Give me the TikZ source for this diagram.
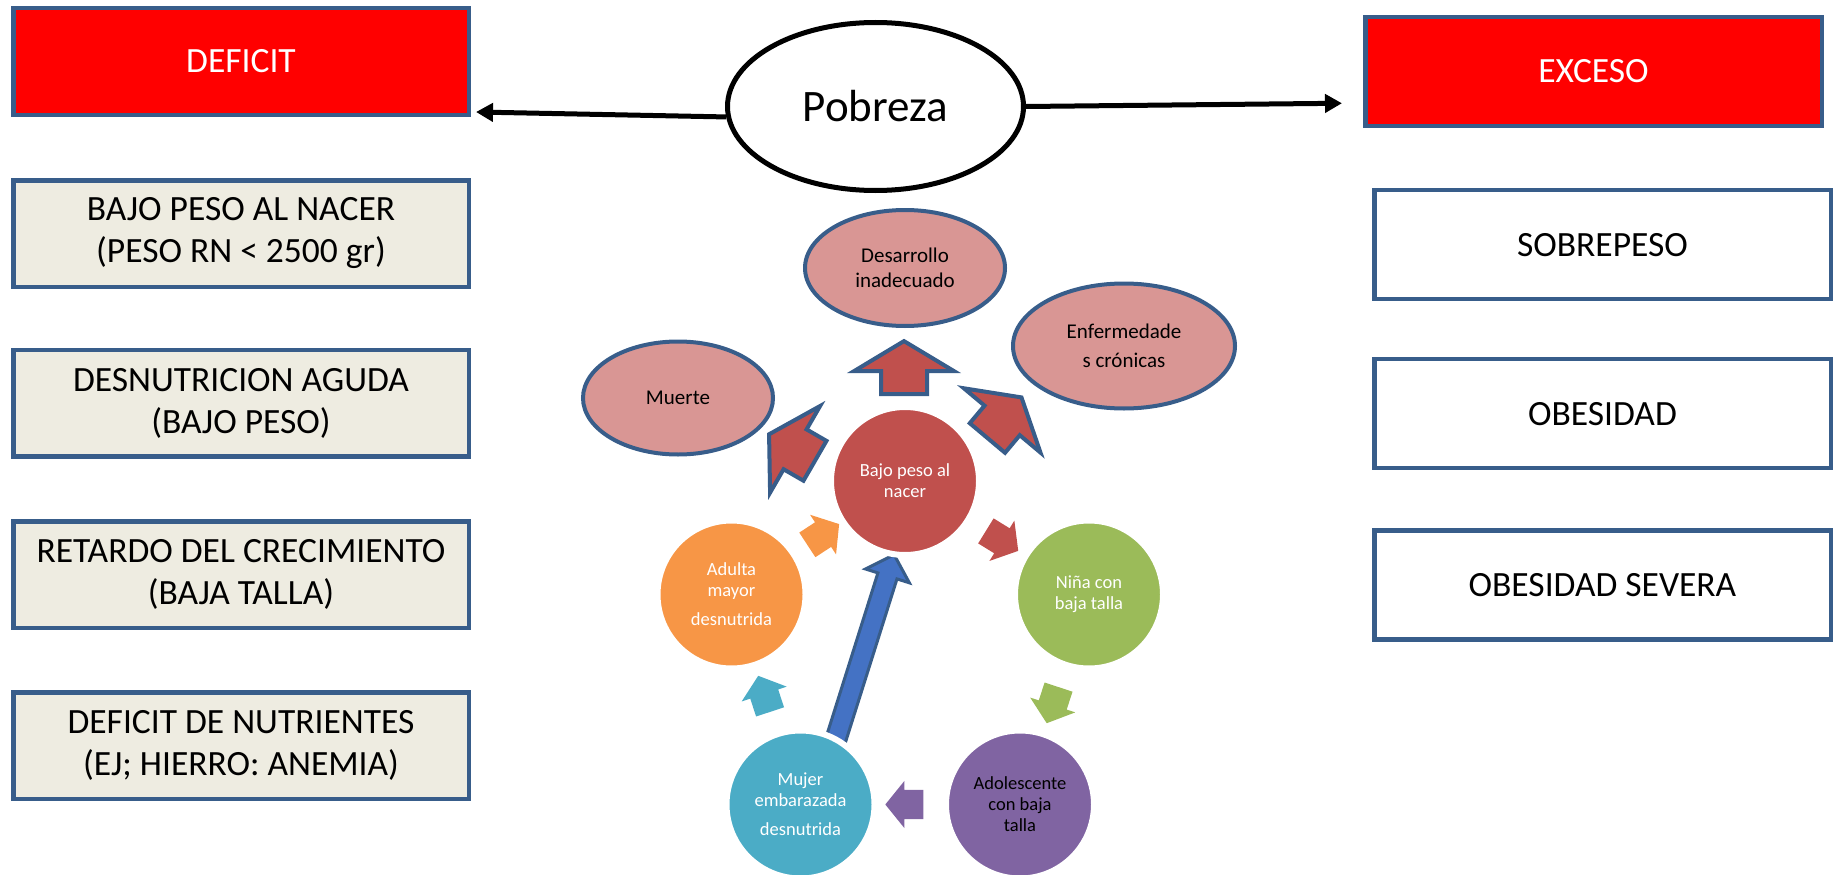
\documentclass[tikz,border=0pt]{standalone}
\usepackage{fontspec}
\setmainfont{Carlito}
\usetikzlibrary{shapes.geometric,shapes.arrows,arrows.meta,calc}

\definecolor{boxblue}{HTML}{385D8A}
\definecolor{beige}{HTML}{EEECE1}
\definecolor{pinkell}{HTML}{D99694}
\definecolor{bajored}{HTML}{C0504D}
\definecolor{ninagreen}{HTML}{9BBB59}
\definecolor{adopurple}{HTML}{8064A2}
\definecolor{mujteal}{HTML}{4BACC6}
\definecolor{aduorange}{HTML}{F79646}
\definecolor{bluefill}{HTML}{4472C4}

\begin{document}
\begin{tikzpicture}[x=1pt,y=-1pt,
        bigarrow/.style={single arrow,draw=boxblue,line width=4pt,fill=bajored,
            inner xsep=0pt,inner ysep=21pt,minimum height=53pt,
            single arrow head extend=27pt,single arrow tip angle=118},
        cyclearrow/.style={single arrow,inner xsep=0pt,inner ysep=14.5pt,
            minimum height=38pt,single arrow head extend=9pt,
            single arrow tip angle=102},
        pobarrow/.style={line width=5pt,-{Triangle[length=17pt,width=18pt]}}]
        \useasboundingbox (0,0) rectangle (1837,875);

        % left column
        \begin{scope}[every node/.style={rectangle,draw=boxblue,line width=4.5pt,
                        fill=beige,minimum width=455.5pt,minimum height=106.5pt,
                        align=center,font=\fontsize{35.5}{42}\selectfont}]
            \node[fill=red,text=white] (DEF) at (241,61.5) {DEFICIT};
            \node (LBP) at (241,233.5) {BAJO PESO AL NACER\\(PESO RN < 2500 gr)};
            \node (LDA) at (241,403) {DESNUTRICION AGUDA\\(BAJO PESO)};
            \node (LRC) at (241,574.5) {RETARDO DEL CRECIMIENTO\\(BAJA TALLA)};
            \node (LDN) at (241,745.5) {DEFICIT DE NUTRIENTES\\(EJ; HIERRO: ANEMIA)};
        \end{scope}

        % right column
        \begin{scope}[every node/.style={rectangle,draw=boxblue,line width=4.5pt,
                        fill=white,minimum width=456.5pt,minimum height=109pt,
                        align=center,font=\fontsize{35.5}{42}\selectfont}]
            \node[fill=red,text=white] (EXC) at (1593.5,71.5) {EXCESO};
            \node (SOB) at (1602.5,244.7) {SOBREPESO};
            \node (OBE) at (1602.5,413.7) {OBESIDAD};
            \node (OBS) at (1602.5,585.2) {OBESIDAD SEVERA};
        \end{scope}

        % Pobreza
        \node[ellipse,draw,line width=5pt,fill=white,minimum width=296pt,
            minimum height=168pt,font=\fontsize{45}{54}\selectfont]
            (POB) at (875.5,106.5) {Pobreza};
        \path (POB.184) edge[pobarrow] ([xshift=5pt,yshift=5pt]DEF.south east);
        \path (POB.east) edge[pobarrow] ([xshift=-21pt,yshift=25pt]EXC.south west);

        % consequences
        \begin{scope}[every node/.style={ellipse,draw=boxblue,line width=4pt,
                        fill=pinkell,inner sep=0pt,align=center,
                        font=\fontsize{21}{25}\selectfont}]
            \node[minimum width=200pt,minimum height=116pt] (DES) at (905,268)
                {Desarrollo\\inadecuado};
            \node[minimum width=222pt,minimum height=125pt] (ENF) at (1124,346)
                {Enfermedade\\[4pt]s crónicas};
            \node[minimum width=190pt,minimum height=113pt] (MUE) at (678,398)
                {Muerte};
        \end{scope}

        \node[bigarrow,rotate=90] (UPA) at (904,374.5) {};
        \node[bigarrow,rotate=150] (LFA) at (798,451) {};
        \node[bigarrow,rotate=50] (RTA) at (1000,423) {};

        \node[single arrow,draw=boxblue,line width=3pt,fill=bluefill,
            inner xsep=0pt,inner ysep=8.5pt,minimum height=200pt,
            single arrow head extend=13pt,single arrow tip angle=92,
            rotate=72.5] (BLA) at (862.6,654.7) {};

        % cycle
        \begin{scope}[every node/.style={circle,draw=white,line width=6pt,
                        minimum size=148pt,inner sep=0pt,align=center,text=white,
                        font=\fontsize{18.5}{21}\selectfont}]
            \node[fill=bajored] (BAJ) at (905,481) {Bajo peso al\\nacer};
            \node[fill=ninagreen] (NIN) at (1089,594.5) {Niña con\\baja talla};
            \node[fill=adopurple,text=black] (ADO) at (1020,804.5)
                {Adolescente\\con baja\\talla};
            \node[fill=mujteal] (MUJ) at (800.5,804.5)
                {Mujer\\embarazada\\[8pt]desnutrida};
            \node[fill=aduorange] (ADU) at (731.5,594.5)
                {Adulta\\mayor\\[8pt]desnutrida};
        \end{scope}

        \node[cyclearrow,fill=bajored,rotate=-31.7] (A1) at ($(BAJ)!0.5!(NIN)$) {};
        \node[cyclearrow,fill=ninagreen,rotate=-108.2] (A2) at ($(NIN)!0.5!(ADO)$) {};
        \node[cyclearrow,fill=adopurple,rotate=180] (A3) at ($(ADO)!0.5!(MUJ)$) {};
        \node[cyclearrow,fill=mujteal,rotate=108.2] (A4) at ($(MUJ)!0.5!(ADU)$) {};
        \node[cyclearrow,fill=aduorange,rotate=33.2] (A5) at ($(ADU)!0.5!(BAJ)$) {};
    \end{tikzpicture}
\end{document}
